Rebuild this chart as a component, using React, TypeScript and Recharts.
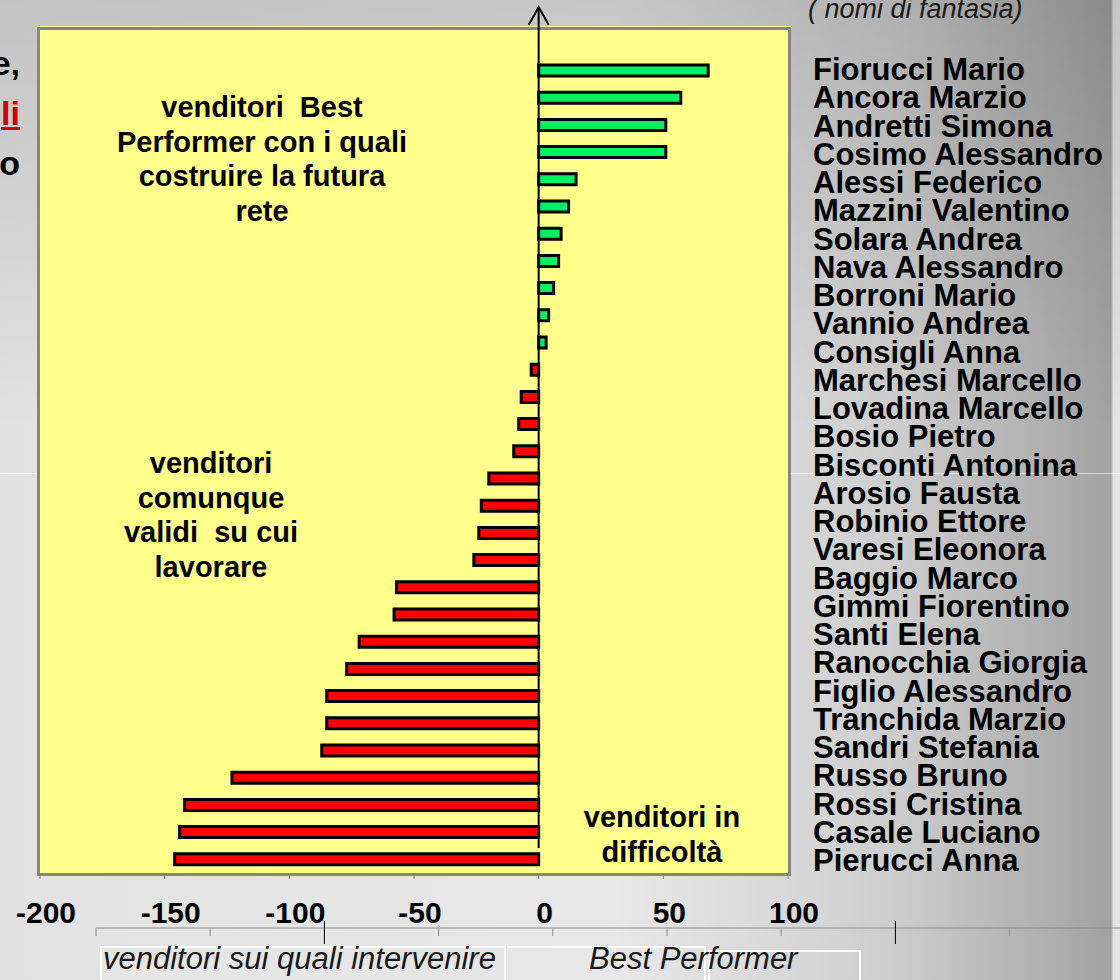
import React from "react";
import { BarChart, Bar, XAxis, YAxis, Cell, ReferenceLine } from "recharts";

// one value per bar, top to bottom (30 bars)
const scores = [
  68, 57, 51, 51, 15, 12, 9, 8, 6, 4, 3,
  -3, -7, -8, -10, -20, -23, -24, -26, -57, -58, -72, -77, -85, -85, -87, -123, -142, -144, -146,
];

// names listed in the side text box (29 lines)
const sellerNames = [
  "Fiorucci Mario", "Ancora Marzio", "Andretti Simona", "Cosimo Alessandro", "Alessi Federico",
  "Mazzini Valentino", "Solara Andrea", "Nava Alessandro", "Borroni Mario", "Vannio Andrea",
  "Consigli Anna", "Marchesi Marcello", "Lovadina Marcello", "Bosio Pietro", "Bisconti Antonina",
  "Arosio Fausta", "Robinio Ettore", "Varesi Eleonora", "Baggio Marco", "Gimmi Fiorentino",
  "Santi Elena", "Ranocchia Giorgia", "Figlio Alessandro", "Tranchida Marzio", "Sandri Stefania",
  "Russo Bruno", "Rossi Cristina", "Casale Luciano", "Pierucci Anna",
];

const xTicks = [-200, -150, -100, -50, 0, 50, 100];

const noteBest = ["venditori  Best", "Performer con i quali", "costruire la futura", "rete"];
const noteValid = ["venditori", "comunque", "validi  su cui", "lavorare"];
const noteTrouble = ["venditori in", "difficoltà"];

const data = scores.map((score, i) => ({ id: String(i + 1), score }));

const FONT = '"Liberation Sans", Arial, Helvetica, sans-serif';

function ValueTick(props: any) {
  const { x, y, payload } = props;
  return (
    <text x={x + 6} y={y + 42} textAnchor="middle" fontFamily={FONT} fontSize={30} fontWeight="bold" fill="#000">
      {payload.value}
    </text>
  );
}

// zero line that runs above the plot and ends in an open arrow head
function ZeroArrow(props: any) {
  const x = props.x1;
  const top = Math.min(props.y1, props.y2);
  const bottom = Math.max(props.y1, props.y2);
  return (
    <g>
      <line x1={x} y1={top - 23} x2={x} y2={bottom - 25} stroke="#000" strokeWidth={2} />
      <polyline points={`${x - 10},${top - 5} ${x},${top - 23} ${x + 10},${top - 5}`} fill="none" stroke="#000" strokeWidth={2} />
    </g>
  );
}

function Note({ lines, cx, top }: { lines: string[]; cx: number; top: number }) {
  return (
    <div
      style={{
        position: "absolute", left: cx - 200, top, width: 400, textAlign: "center",
        fontFamily: FONT, fontWeight: "bold", fontSize: 29, lineHeight: "34.5px", color: "#000",
        whiteSpace: "pre",
      }}
    >
      {lines.map((l) => <div key={l}>{l}</div>)}
    </div>
  );
}

export default function App() {
  const ghostTicks = Array.from({ length: 9 }, (_, i) => 96 + i * 114.2);
  return (
    <div
      style={{
        position: "absolute", left: 0, top: 0, width: 1120, height: 980, overflow: "hidden",
        background:
          "linear-gradient(180deg, rgba(0,0,0,0.14) 0px, rgba(0,0,0,0) 430px), linear-gradient(90deg, #e2e2e2 0%, #e8e8e8 55%, #cdcdcd 80%, #a2a2a2 99.2%, #e4e4e4 99.4%)",
      }}
    >
      {/* faint guide line across the slide */}
      <div style={{ position: "absolute", left: 0, top: 473, width: 1120, height: 1, background: "rgba(255,255,255,0.6)" }} />

      {/* cut-off slide text on the left */}
      <div style={{ position: "absolute", left: -200, top: 38, width: 220, textAlign: "right", fontFamily: FONT, fontWeight: "bold", fontSize: 34, lineHeight: "50px" }}>
        <div>e,</div>
        <div style={{ color: "#cc0000", textDecoration: "underline" }}>li</div>
        <div>o</div>
      </div>

      {/* top caption */}
      <div style={{ position: "absolute", left: 808, top: -6, fontFamily: FONT, fontStyle: "italic", fontSize: 27, color: "#1a1a1a", whiteSpace: "pre" }}>
        ( nomi di fantasia)
      </div>

      {/* plot frame */}
      <div style={{ position: "absolute", left: 37, top: 27, width: 748, height: 843, background: "#ffff8c", border: "3px solid #868686", boxShadow: "0 -1px 0 #ffff99" }} />

      <div style={{ position: "absolute", left: 0, top: 0 }}>
        <BarChart
          layout="vertical"
          width={1120}
          height={980}
          data={data}
          margin={{ top: 30, right: 332, bottom: 67, left: 40 }}
        >
          <XAxis
            type="number"
            domain={[-200, 100]}
            ticks={xTicks}
            interval={0}
            height={40}
            axisLine={false}
            tickSize={6}
            tickLine={{ stroke: "#808080" }}
            tick={<ValueTick />}
            allowDataOverflow
          />
          <YAxis type="category" dataKey="id" hide padding={{ top: 27, bottom: 0 }} />
          <Bar dataKey="score" barSize={11} stroke="#000" strokeWidth={3} isAnimationActive={false}>
            {data.map((d) => (
              <Cell key={d.id} fill={d.score >= 0 ? "#00f064" : "#ff0000"} />
            ))}
          </Bar>
          <ReferenceLine x={0} stroke="#000" strokeWidth={2} shape={ZeroArrow} />
        </BarChart>
      </div>

      <Note lines={noteBest} cx={262} top={90} />
      <Note lines={noteValid} cx={211} top={446} />
      <Note lines={noteTrouble} cx={662} top={800} />

      {/* names box */}
      <div style={{ position: "absolute", left: 813, top: 56, fontFamily: FONT, fontWeight: "bold", fontSize: 31, lineHeight: "28.25px", color: "#000", whiteSpace: "pre" }}>
        {sellerNames.map((n) => <div key={n}>{n}</div>)}
      </div>

      {/* second, offset axis line below the labels */}
      <svg style={{ position: "absolute", left: 0, top: 0 }} width={1120} height={980}>
        <line x1={96} y1={928} x2={1120} y2={928} stroke="#8c8c8c" strokeWidth={1} />
        {ghostTicks.map((t, i) => (
          <line
            key={i}
            x1={t}
            x2={t}
            y1={i === 2 || i === 7 ? 921 : 928}
            y2={i === 2 || i === 7 ? 944 : 936}
            stroke={i === 2 || i === 7 ? "#000" : "#8c8c8c"}
            strokeWidth={1}
          />
        ))}
      </svg>

      {/* bottom captions */}
      <div style={{ position: "absolute", left: 100, top: 946, width: 402, height: 60, border: "2px solid #fff", background: "#e6e6e6" }} />
      <div style={{ position: "absolute", left: 507, top: 946, width: 197, height: 60, border: "2px solid #fff", borderLeft: "none" }} />
      <div style={{ position: "absolute", left: 708, top: 950, width: 149, height: 60, border: "2px solid #fff" }} />
      <div style={{ position: "absolute", left: 103, top: 941, fontFamily: FONT, fontStyle: "italic", fontSize: 31, color: "#1a1a1a", whiteSpace: "pre" }}>
        venditori sui quali intervenire
      </div>
      <div style={{ position: "absolute", left: 589, top: 941, width: 200, textAlign: "center", fontFamily: FONT, fontStyle: "italic", fontSize: 31, color: "#1a1a1a", whiteSpace: "pre" }}>
        Best Performer
      </div>
    </div>
  );
}
